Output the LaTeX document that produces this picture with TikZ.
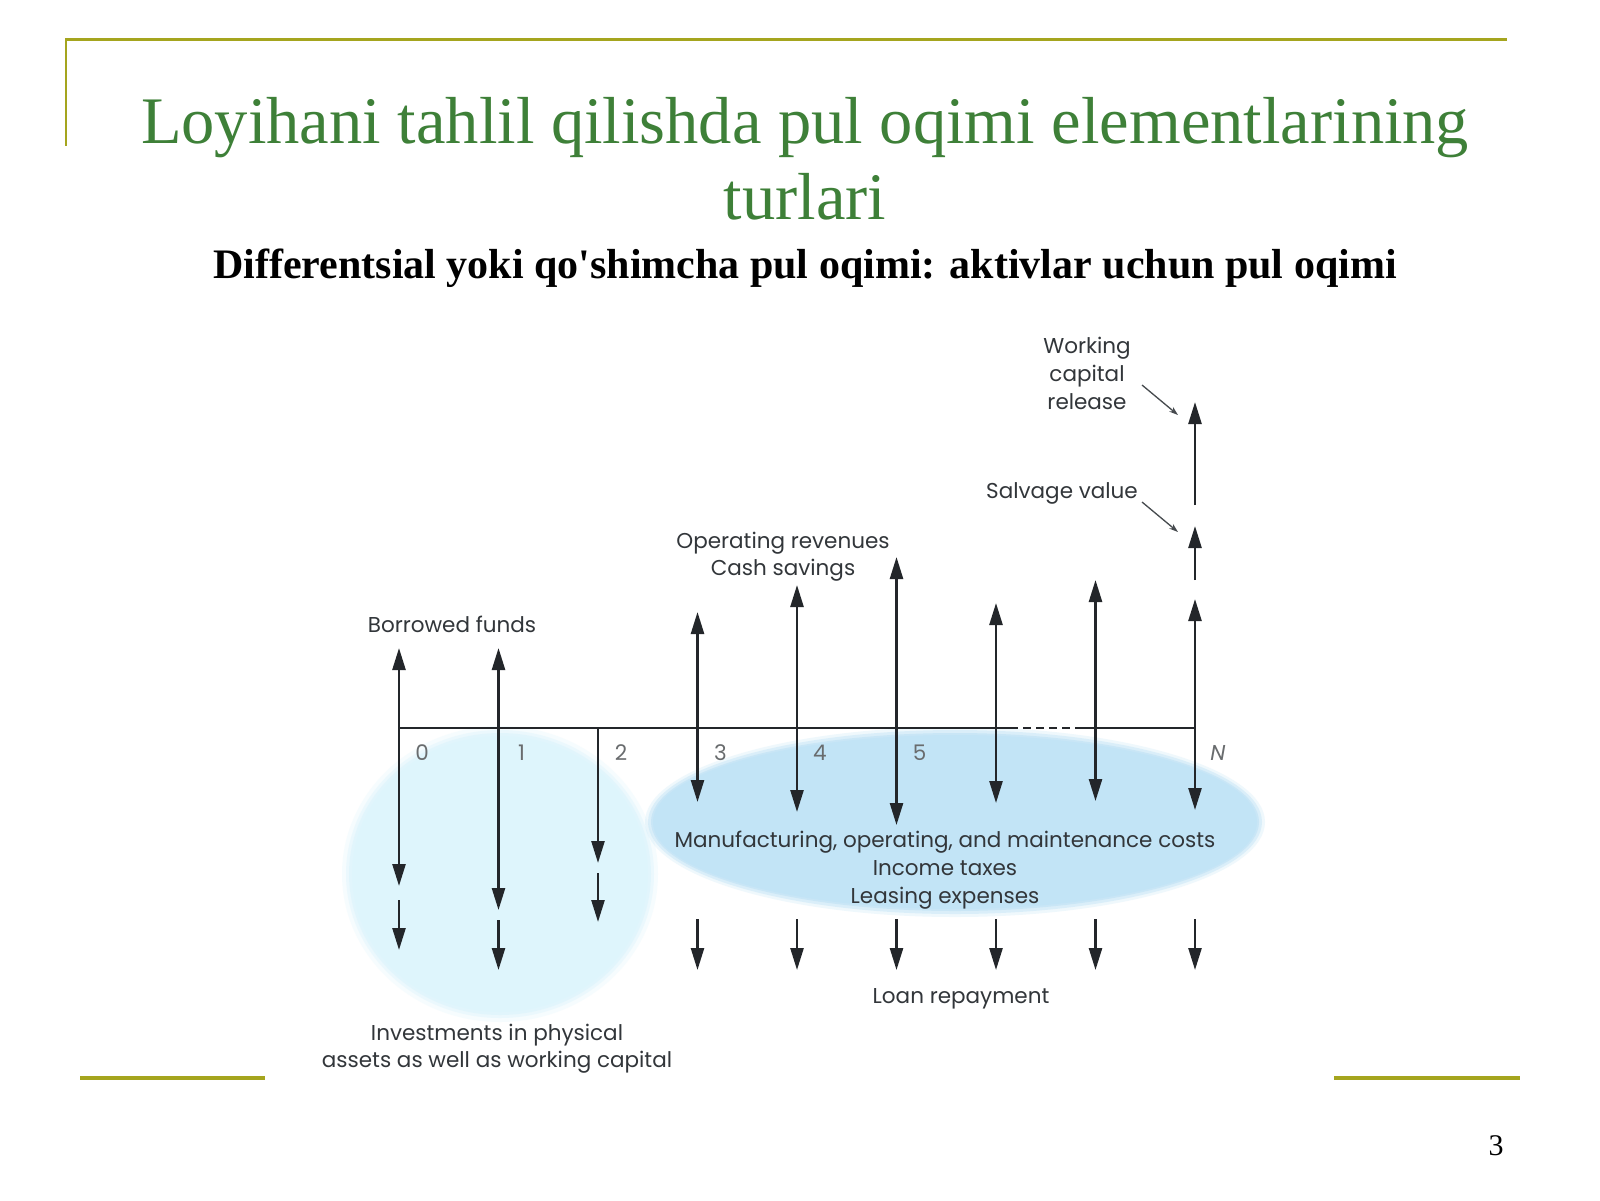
\documentclass[tikz,border=0pt]{standalone}
\usepackage{fontspec}
\usetikzlibrary{arrows.meta}
\newfontfamily\serifT{Liberation Serif}
\newfontfamily\lab{Poppins}
\definecolor{slideolive}{RGB}{165,165,30}
\definecolor{titlegreen}{RGB}{62,128,56}
\definecolor{arrowc}{RGB}{35,38,42}
\definecolor{labc}{RGB}{50,54,58}
\definecolor{tickc}{RGB}{105,108,110}
\definecolor{pointc}{RGB}{70,74,78}
\definecolor{blobA}{RGB}{222,245,252}
\definecolor{blobB}{RGB}{194,228,246}
\tikzset{
  flow/.style={line width=2.5pt, draw=arrowc},
  tipend/.style={-{Triangle[length=22pt,width=13pt]}},
  tipboth/.style={{Triangle[length=22pt,width=13pt]}-{Triangle[length=22pt,width=13pt]}},
  lbl/.style={font=\lab\fontsize{21.5}{26}\selectfont, text=labc, inner sep=0pt, anchor=base},
  ticklbl/.style={font=\lab\fontsize{21.5}{26}\selectfont, text=tickc, inner sep=0pt, anchor=base},
  pointer/.style={line width=1.3pt, draw=pointc, -{Stealth[length=9pt,width=6pt]}},
  frameline/.style={draw=slideolive},
}
\begin{document}
\begin{tikzpicture}[x=1pt,y=-1pt]
\useasboundingbox (0,0) rectangle (1600,1200);
\fill[white] (0,0) rectangle (1600,1200);

% frame lines
\draw[frameline, line width=3pt] (66,39) -- (1507,39);
\draw[frameline, line width=2pt] (66,38) -- (66,146);
\draw[frameline, line width=4pt] (80,1078) -- (265,1078);
\draw[frameline, line width=4pt] (1334,1078) -- (1520,1078);

% title
\node[font=\serifT\fontsize{66.5}{76}\selectfont, text=titlegreen, inner sep=0pt, anchor=base] (title1) at (805,143) {Loyihani tahlil qilishda pul oqimi elementlarining};
\node[font=\serifT\fontsize{66.5}{76}\selectfont, text=titlegreen, inner sep=0pt, anchor=base] (title2) at (805,219) {turlari};
\node[font=\serifT\bfseries\fontsize{42}{48}\selectfont, text=black, inner sep=0pt, anchor=base] (subtitle) at (805,278) {Differentsial yoki qo'shimcha pul oqimi: aktivlar uchun pul oqimi};
\node[font=\serifT\fontsize{30}{36}\selectfont, text=black, inner sep=0pt, anchor=base] (pagenum) at (1496,1155) {3};

% blobs with soft edges
\foreach \d/\o in {10/0.25,6/0.45,3/0.7,0/1} {
  \fill[blobA, opacity=\o] (500,874) ellipse [x radius=148+\d, y radius=138+\d];
}
\foreach \d/\o in {8/0.25,5/0.45,2/0.7,0/1} {
  \fill[blobB, opacity=\o] (955,822) ellipse [x radius=302+\d, y radius=87+\d];
}

% axis coordinates
\foreach \i in {0,...,8} {
  \coordinate (a\i) at ({399+99.5*\i},728);
}
\coordinate (dashA) at (1010,728);
\coordinate (dashB) at (1080,728);
\draw[line width=1.5pt, arrowc] (a0) -- (dashA);
\draw[line width=1.5pt, arrowc, dash pattern=on 8pt off 5pt] (dashA) -- (dashB);
\draw[line width=1.5pt, arrowc] (dashB) -- (a8);

% up tips
\coordinate (u0) at (399,648);
\coordinate (u1) at (498.5,648);
\coordinate (u3) at (697.5,612);
\coordinate (u4) at (797,585);
\coordinate (u5) at (896.5,557);
\coordinate (u6) at (996,603);
\coordinate (u7) at (1095.5,580);
\coordinate (u8) at (1195,599);
% down tips
\coordinate (d0) at (399,886);
\coordinate (d1) at (498.5,910);
\coordinate (d2) at (598,863);
\coordinate (d3) at (697.5,802);
\coordinate (d4) at (797,812);
\coordinate (d5) at (896.5,825);
\coordinate (d6) at (996,803);
\coordinate (d7) at (1095.5,801);
\coordinate (d8) at (1195,810);

\foreach \i in {0,1,3,4,5,6,7,8} {
  \draw[flow, tipboth] (u\i) -- (d\i);
}
\draw[flow, tipend] (a2) -- (d2);

% second investment segments
\coordinate (s0a) at (399,900);   \coordinate (s0b) at (399,950);
\coordinate (s1a) at (498.5,920); \coordinate (s1b) at (498.5,970);
\coordinate (s2a) at (598,873);   \coordinate (s2b) at (598,922);
\draw[flow, tipend] (s0a) -- (s0b);
\draw[flow, tipend] (s1a) -- (s1b);
\draw[flow, tipend] (s2a) -- (s2b);

% loan repayment arrows
\foreach \i in {3,...,8} {
  \coordinate (la\i) at ({399+99.5*\i},919);
  \coordinate (lb\i) at ({399+99.5*\i},970);
  \draw[flow, tipend] (la\i) -- (lb\i);
}

% salvage and working capital at N
\coordinate (sv1) at (1195,580);
\coordinate (sv2) at (1195,526);
\coordinate (wc1) at (1195,505);
\coordinate (wc2) at (1195,402);
\draw[flow, tipend] (sv1) -- (sv2);
\draw[flow, tipend] (wc1) -- (wc2);

% tick labels
\foreach \i in {0,...,5} {
  \node[ticklbl] (t\i) at ({422+99.5*\i},760) {\i};
}
\node[ticklbl] (tN) at (1218,760) {\itshape N};

% labels
\node[lbl] (borrowed) at (452,632) {Borrowed funds};
\node[lbl] (oprev) at (783,548) {Operating revenues};
\node[lbl] (cashsav) at (783,575) {Cash savings};
\node[lbl] (work1) at (1087,353) {Working};
\node[lbl] (work2) at (1087,381) {capital};
\node[lbl] (work3) at (1087,409) {release};
\node[lbl] (salvage) at (1062,498) {Salvage value};
\node[lbl] (manuf) at (945,847) {Manufacturing, operating, and maintenance costs};
\node[lbl] (income) at (945,875) {Income taxes};
\node[lbl] (leasing) at (945,903) {Leasing expenses};
\node[lbl] (loan) at (961,1003) {Loan repayment};
\node[lbl] (invest1) at (497,1040) {Investments in physical};
\node[lbl] (invest2) at (497,1067) {assets as well as working capital};

% pointers
\coordinate (pw1) at (1142,385);
\coordinate (pw2) at (1178,415);
\coordinate (ps1) at (1142,502);
\coordinate (ps2) at (1178,532);
\draw[pointer] (pw1) -- (pw2);
\draw[pointer] (ps1) -- (ps2);
\end{tikzpicture}
\end{document}
